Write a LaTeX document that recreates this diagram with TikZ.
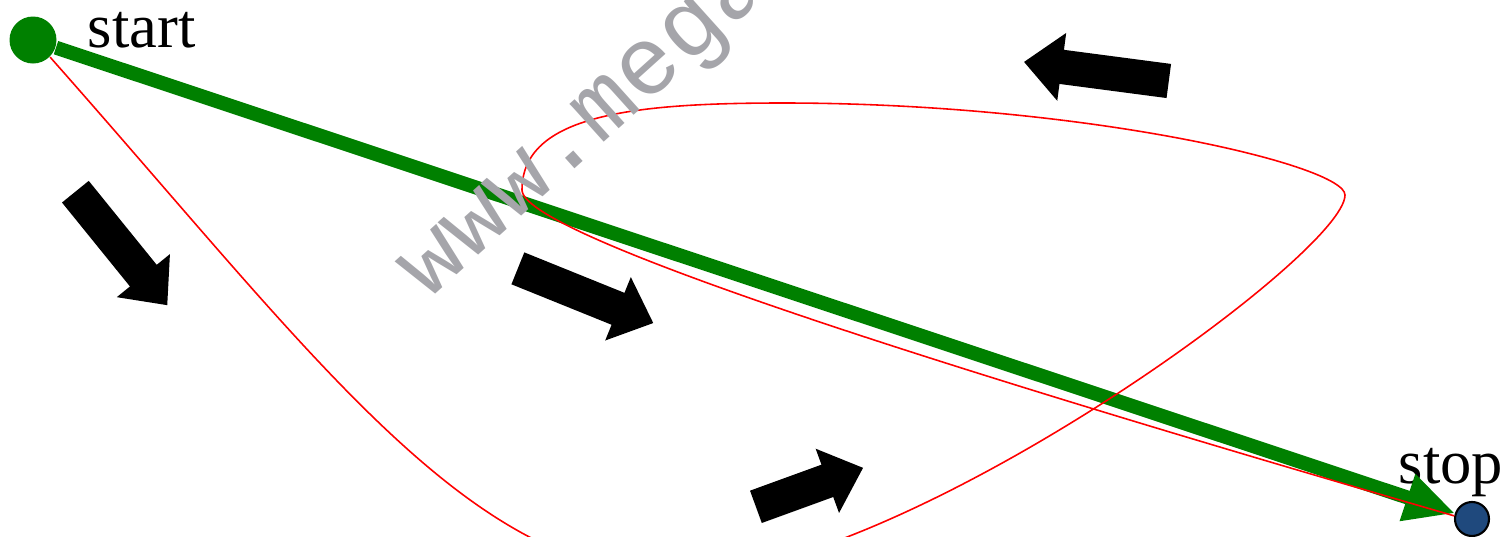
\documentclass[tikz,border=0pt]{standalone}
\usepackage{fontspec}
\setmainfont{Liberation Serif}
\newfontfamily\wmfont{Liberation Mono}
\usetikzlibrary{shapes.arrows,arrows.meta}
\definecolor{pathgreen}{RGB}{0,128,0}
\definecolor{stopblue}{RGB}{31,73,125}
\definecolor{wmgray}{RGB}{165,165,170}

\begin{document}
\begin{tikzpicture}[
  startdot/.style={circle, inner sep=0pt, minimum size=0.47cm, fill=pathgreen},
  stopdot/.style={circle, inner sep=0pt, minimum size=0.34cm, fill=stopblue, draw=black, line width=0.6pt},
  lbl/.style={font=\fontsize{17.8}{20}\selectfont, inner sep=0pt, anchor=base west},
  flow/.style={single arrow, fill=black, inner xsep=0pt, inner ysep=0.165cm, single arrow head extend=0.17cm, single arrow tip angle=84, minimum height=1.46cm},
  route/.style={pathgreen, line width=1.4mm, -{Triangle[length=5mm, width=4.6mm]}},
  trail/.style={red, line width=0.45pt},
  watermark/.style={text=wmgray, font=\wmfont\fontsize{27.5}{30}\selectfont, inner sep=0pt, anchor=base west}
]
\useasboundingbox (0,0) rectangle (15.06,5.36);
\clip (0,0) rectangle (15.06,5.36);

\node (start) [startdot] at (0.33, 4.96) {};
\node (stop) [stopdot] at (14.72, 0.17) {};
\node (startlbl) [lbl] at (0.87, 4.89) {start};
\node (stoplbl) [lbl] at (13.98, 0.53) {stop};

% the direct way
\draw [route] (start) -- (stop);

% the way actually taken
\coordinate (low) at (6.8, -0.4);
\coordinate (east) at (13.45, 3.41);
\coordinate (top) at (7.83, 4.33);
\coordinate (west) at (5.22, 3.46);
\draw [trail] (start.-45) .. controls (3.2,1.74) and (4.7,-0.4) .. (low)
  .. controls (9.0,-0.4) and (13.45,2.81) .. (east)
  .. controls (13.45,3.71) and (10.83,4.33) .. (top)
  .. controls (6.33,4.33) and (5.22,4.21) .. (west)
  .. controls (5.22,2.96) and (10.55,1.36) .. (stop.170);

\node (flow1) [flow, rotate=-51] at (1.153, 2.95) {};
\node (flow2) [flow, rotate=-22] at (5.767, 2.439) {};
\node (flow3) [flow, rotate=20, minimum height=1.14cm] at (8.005, 0.454) {};
\node (flow4) [flow, rotate=172.5] at (11.059, 4.633) {};

\node (wm) [watermark, rotate=42] at (4.28, 2.35) {www.mega};

\end{tikzpicture}
\end{document}
